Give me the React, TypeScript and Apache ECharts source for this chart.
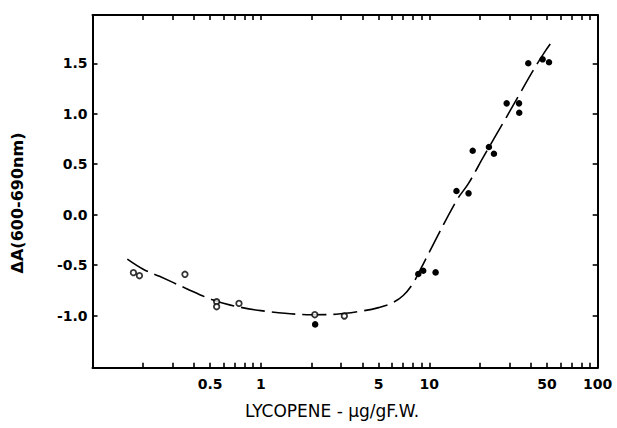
import React, { useEffect, useRef } from 'react';
import * as echarts from 'echarts';

// Axis definitions (raw lycopene values, µg/g F.W.)
const xMin = 0.1;
const xMax = 100;
const yMin = -1.515;
const yMax = 1.978;
const xTickValues = [
  0.1, 0.2, 0.3, 0.4, 0.5, 0.6, 0.7, 0.8, 0.9,
  1, 2, 3, 4, 5, 6, 7, 8, 9,
  10, 20, 30, 40, 50, 60, 70, 80, 90, 100,
];
const xLabelValues = [0.5, 1, 5, 10, 50, 100];
const yLabelValues = [-1.0, -0.5, 0.0, 0.5, 1.0, 1.5];

// Open-circle observations
const openX = [0.175, 0.19, 0.354, 0.546, 0.546, 0.741, 2.09, 3.13];
const openY = [-0.574, -0.604, -0.59, -0.862, -0.911, -0.878, -0.99, -1.003];

// Filled-circle observations
const filledX = [2.1, 8.6, 9.2, 10.9, 14.5, 17.1, 18.1, 22.6, 24.2, 28.8, 34.1, 34.2, 38.7, 47.1, 51.4];
const filledY = [-1.086, -0.587, -0.555, -0.571, 0.235, 0.212, 0.634, 0.671, 0.604, 1.103, 1.103, 1.01, 1.5, 1.539, 1.51];

// Hand-drawn fitted curve
const curveX = [0.161, 0.2, 0.25, 0.36, 0.51, 0.66, 1.0, 2.0, 2.8, 4.1, 5.0, 6.0, 7.0, 8.0, 9.0, 10.0, 14.5, 17.1, 21, 28.8, 33.7, 41.4, 48.6, 53.8];
const curveY = [-0.44, -0.54, -0.61, -0.73, -0.84, -0.895, -0.95, -0.99, -0.985, -0.95, -0.92, -0.875, -0.80, -0.68, -0.52, -0.37, 0.14, 0.31, 0.575, 0.97, 1.17, 1.43, 1.615, 1.72];

const lg = (v: number) => Math.log10(v);
const pairs = (xs: number[], ys: number[]) => xs.map((x, i) => [lg(x), ys[i]]);

const FONT = 'DejaVu Sans';
const INK = '#000000';

export default function App() {
  const ref = useRef<HTMLDivElement>(null);

  useEffect(() => {
    document.body.style.margin = '0';
    if (!ref.current) return;
    const chart = echarts.init(ref.current, undefined, { renderer: 'svg' });

    const xAxisBase = {
      type: 'value' as const,
      min: lg(xMin),
      max: lg(xMax),
      splitLine: { show: false },
      axisLine: { show: true, onZero: false, lineStyle: { color: INK, width: 2 } },
      axisTick: {
        show: true,
        inside: true,
        length: 5,
        customValues: xTickValues.map(lg),
        lineStyle: { color: INK, width: 1.6 },
      },
    };
    const yAxisBase = {
      type: 'value' as const,
      min: yMin,
      max: yMax,
      splitLine: { show: false },
      axisLine: { show: true, onZero: false, lineStyle: { color: INK, width: 2 } },
      axisTick: {
        show: true,
        inside: true,
        length: 5,
        customValues: yLabelValues,
        lineStyle: { color: INK, width: 1.6 },
      },
    };

    chart.setOption({
      animation: false,
      backgroundColor: '#ffffff',
      grid: { left: 92.5, right: 19.3, top: 15, bottom: 60.3, containLabel: false },
      xAxis: [
        {
          ...xAxisBase,
          position: 'bottom',
          axisLabel: {
            show: true,
            margin: 9,
            customValues: xLabelValues.map(lg),
            formatter: (v: number) => String(Number(Math.pow(10, v).toPrecision(2))),
            color: INK,
            fontFamily: FONT,
            fontWeight: 'bold',
            fontSize: 14,
          },
        },
        {
          ...xAxisBase,
          position: 'top',
          axisLabel: { show: false },
        },
      ],
      yAxis: [
        {
          ...yAxisBase,
          position: 'left',
          axisLabel: {
            show: true,
            margin: 5,
            customValues: yLabelValues,
            formatter: (v: number) => v.toFixed(1),
            color: INK,
            fontFamily: FONT,
            fontWeight: 'bold',
            fontSize: 14,
          },
        },
        {
          ...yAxisBase,
          position: 'right',
          axisLabel: { show: false },
        },
      ],
      graphic: [
        {
          type: 'text',
          x: 17,
          y: 203,
          rotation: Math.PI / 2,
          style: {
            text: 'ΔA(600-690nm)',
            fill: INK,
            font: `bold 16px "${FONT}"`,
            textAlign: 'center',
            textVerticalAlign: 'middle',
          },
        },
        {
          type: 'text',
          x: 332,
          y: 411,
          style: {
            text: 'LYCOPENE - μg/gF.W.',
            fill: INK,
            font: `17px "${FONT}"`,
            textAlign: 'center',
            textVerticalAlign: 'middle',
          },
        },
      ],
      series: [
        {
          type: 'line',
          data: pairs(curveX, curveY),
          smooth: 0.35,
          showSymbol: false,
          symbol: 'none',
          lineStyle: { color: INK, width: 1.6, type: [24, 7] },
          z: 2,
        },
        {
          type: 'scatter',
          data: pairs(openX, openY),
          symbol: 'circle',
          symbolSize: 5.5,
          itemStyle: { color: '#ffffff', borderColor: INK, borderWidth: 1.8 },
          z: 3,
        },
        {
          type: 'scatter',
          data: pairs(filledX, filledY),
          symbol: 'circle',
          symbolSize: 6.5,
          itemStyle: { color: INK, opacity: 1 },
          z: 3,
        },
      ],
    });

    return () => chart.dispose();
  }, []);

  return <div ref={ref} style={{ width: 617, height: 428 }} />;
}
